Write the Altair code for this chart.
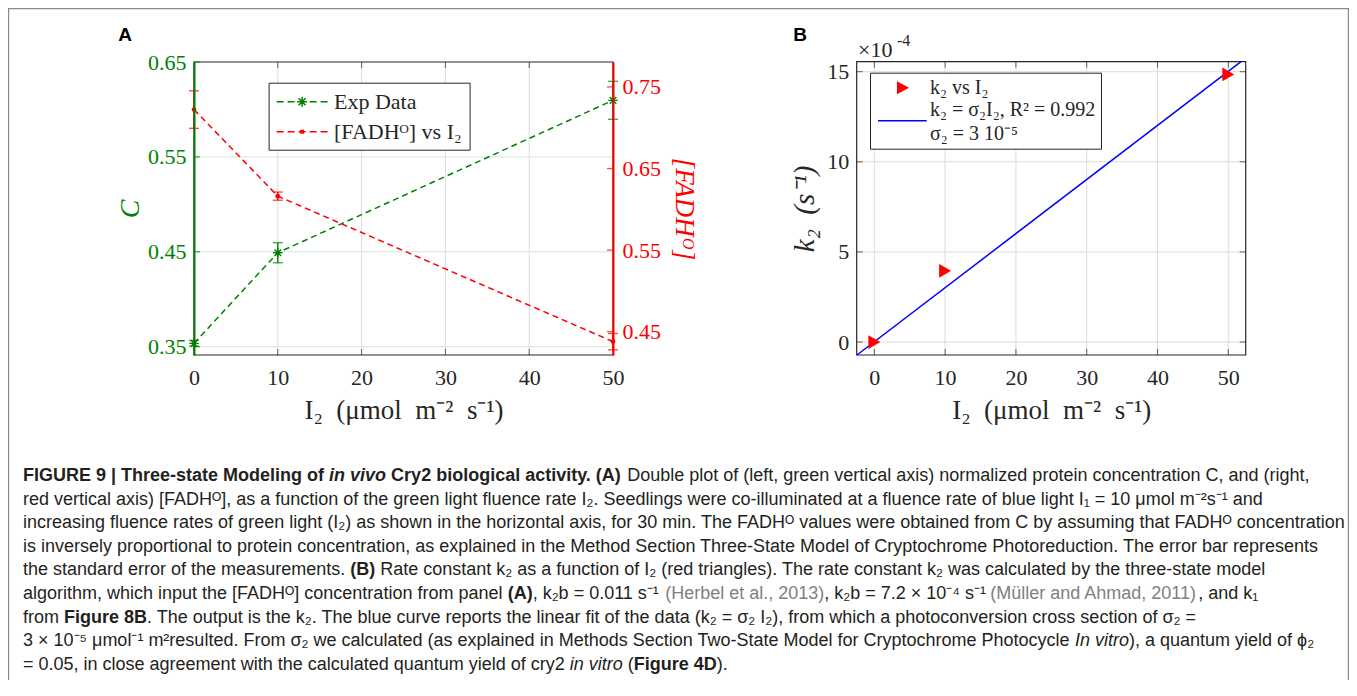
import altair as alt
import pandas as pd

# ---------------- data ----------------
I2 = [0, 10, 50]
C_val = [0.3535, 0.449, 0.6096]
C_err = [0.003, 0.0106, 0.020]
FADH_val = [0.7223, 0.6162, 0.4379]
FADH_err = [0.023, 0.005, 0.010]
k2_val = [0.0, 3.95, 14.85]            # x 10^-4 s^-1
fit_I2 = [-2.45, 51.8]
fit_k2 = [-0.72, 15.555]

xA_ticks = [0, 10, 20, 30, 40, 50]
yC_ticks = [0.35, 0.45, 0.55, 0.65]
yF_ticks = [0.45, 0.55, 0.65, 0.75]
xB_ticks = [0, 10, 20, 30, 40, 50]
yB_ticks = [0, 5, 10, 15]

xA_dom = [0, 50]
yC_dom = [0.3412, 0.65]
yF_dom = [0.4215, 0.7806]
xB_dom = [-2.49, 52.46]
yB_dom = [-0.72, 15.555]

legendA = ["Exp Data", "[FADHᴼ] vs I₂"]
legendB = ["k₂ vs I₂", "k₂ = σ₂I₂, R² = 0.992", "σ₂ = 3 10⁻⁵"]

EN = "\u2002"
xtitle = f"I₂{EN}(μmol{EN}m⁻²{EN}s⁻¹)"
ytitleB = f"k₂{EN}(s⁻¹)"

# caption: one list of (text, style) segments per line; r=regular b=bold i=italic bi=bold italic g=grey
caption = [
    [("FIGURE 9 | Three-state Modeling of ", "b"), ("in vivo", "bi"), (" Cry2 biological activity. (A)", "b"),
     (" Double plot of (left, green vertical axis) normalized protein concentration C, and (right,", "r")],
    [("red vertical axis) [FADHᴼ], as a function of the green light fluence rate I₂. Seedlings were co-illuminated at a fluence rate of blue light I₁ = 10 μmol m⁻²s⁻¹ and", "r")],
    [("increasing fluence rates of green light (I₂) as shown in the horizontal axis, for 30 min. The FADHᴼ values were obtained from C by assuming that FADHᴼ concentration", "r")],
    [("is inversely proportional to protein concentration, as explained in the Method Section Three-State Model of Cryptochrome Photoreduction. The error bar represents", "r")],
    [("the standard error of the measurements. ", "r"), ("(B)", "b"),
     (" Rate constant k₂ as a function of I₂ (red triangles). The rate constant k₂ was calculated by the three-state model", "r")],
    [("algorithm, which input the [FADHᴼ] concentration from panel ", "r"), ("(A)", "b"), (", k₂b = 0.011 s⁻¹ ", "r"),
     ("(Herbel et al., 2013)", "g"), (", k₂b = 7.2 × 10⁻⁴ s⁻¹ ", "r"), ("(Müller and Ahmad, 2011)", "g"), (", and k₁", "r")],
    [("from ", "r"), ("Figure 8B", "b"),
     (". The output is the k₂. The blue curve reports the linear fit of the data (k₂ = σ₂ I₂), from which a photoconversion cross section of σ₂ =", "r")],
    [("3 × 10⁻⁵ μmol⁻¹ m²resulted. From σ₂ we calculated (as explained in Methods Section Two-State Model for Cryptochrome Photocycle ", "r"),
     ("In vitro", "i"), ("), a quantum yield of ϕ₂", "r")],
    [("= 0.05, in close agreement with the calculated quantum yield of cry2 ", "r"), ("in vitro", "i"), (" (", "r"),
     ("Figure 4D", "b"), (").", "r")],
]

# ---------------- layout / style ----------------
W, H = 1341, 672
SERIF = "Liberation Serif"
SANS = "Liberation Sans"
DARK = "#262626"
GREEN = "#008000"
RED = "#ff0000"
BLUE = "#0000ff"
A_X = [186, 605]
A_Y = [347, 54]
B_X = [848.7, 1237.7]
B_Y = [347, 53.7]
CAP_FS = 18

# Arial / Liberation Sans advance widths (1/1000 em) for ASCII 32..126
REG_W = ([278, 278, 355, 556, 556, 889, 667, 191, 333, 333, 389, 584, 278, 333, 278, 278] + [556] * 10 +
         [278, 278, 584, 584, 584, 556, 1015] +
         [667, 667, 722, 722, 667, 611, 778, 722, 278, 500, 667, 556, 833, 722, 778, 667, 778, 722, 667, 611,
          722, 667, 944, 667, 667, 611] + [278, 278, 278, 469, 556, 333] +
         [556, 556, 500, 556, 556, 278, 556, 556, 222, 222, 500, 222, 833, 556, 556, 556, 556, 333, 500, 278,
          556, 500, 722, 500, 500, 500] + [334, 260, 334, 584])
BOLD_W = ([278, 333, 474, 556, 556, 889, 722, 238, 333, 333, 389, 584, 278, 333, 278, 278] + [556] * 10 +
          [333, 333, 584, 584, 584, 611, 975] +
          [722, 722, 722, 722, 667, 611, 778, 722, 278, 556, 722, 611, 833, 722, 778, 667, 778, 722, 667, 611,
           722, 667, 944, 667, 667, 611] + [333, 278, 333, 584, 556, 333] +
          [556, 611, 556, 611, 556, 333, 611, 611, 278, 278, 556, 278, 889, 611, 611, 611, 611, 389, 556, 333,
           611, 556, 778, 556, 556, 500] + [389, 280, 389, 584])
EXTRA_W = {"ᴼ": 470, "₂": 360, "₁": 360, "⁻": 360, "⁴": 360, "⁵": 360, "²": 333, "¹": 333,
           "μ": 576, "σ": 600, "ϕ": 660, "×": 584, "ü": 556}


def text_w(s, bold):
    tab = BOLD_W if bold else REG_W
    tot = 0
    for ch in s:
        o = ord(ch)
        tot += tab[o - 32] if 32 <= o <= 126 else EXTRA_W.get(ch, 556)
    return tot / 1000.0 * CAP_FS


rows = []
for li, segs in enumerate(caption):
    x = 15.0
    for txt, st in segs:
        bold = st in ("b", "bi")
        lead = txt[:len(txt) - len(txt.lstrip(" "))]
        rows.append({"line": li, "x": x + text_w(lead, bold), "t": txt.strip(" "), "st": st})
        x += text_w(txt, bold)
cap_df = pd.DataFrame(rows)

ASTERISK = "M0,-1L0,1M-1,0L1,0M-0.7,-0.7L0.7,0.7M-0.7,0.7L0.7,-0.7"


def sym(parts, s):
    """Legend symbol path; parts are pixel coords from entry-left / row-centre."""
    h = s / 2.0
    out = []
    for p in parts:
        if p[0] == "Z":
            out.append("Z")
        else:
            out.append(f"{p[0]}{(p[1] - h) / h:.3f},{p[2] / h:.3f}")
    return "".join(out)


def dashes(segs):
    res = []
    for a, b in segs:
        res += [("M", a, 0), ("L", b, 0)]
    return res


SA = 22
cx = 25.5
LEG_A1 = sym(dashes([(0, 7), (11, 18), (33, 40), (44, 51)]) + [
    ("M", cx, -5), ("L", cx, 5), ("M", cx - 5, 0), ("L", cx + 5, 0),
    ("M", cx - 3.5, -3.5), ("L", cx + 3.5, 3.5), ("M", cx - 3.5, 3.5), ("L", cx + 3.5, -3.5)], SA)
LEG_A2 = sym(dashes([(0, 7), (11, 18), (22, 29), (33, 40), (44, 51)]) + [
    ("M", cx - 1.2, -1.2), ("L", cx + 1.2, -1.2), ("L", cx + 1.2, 1.2), ("L", cx - 1.2, 1.2), ("Z",)], SA)
SB = 20
LEG_B1 = sym([("M", 22, -6.5), ("L", 34, 0), ("L", 22, 6.5), ("Z",)], SB)
LEG_B2 = sym([("M", 3, 10.3), ("L", 51.7, 10.3), ("L", 51.7, 11.7), ("L", 3, 11.7), ("Z",)], SB)
LEG_B3 = sym([("M", 9.9, -0.1), ("L", 10.1, -0.1), ("L", 10.1, 0.1), ("Z",)], SB)


def axis(**kw):
    base = dict(labelFont=SERIF, labelFontSize=22, labelColor=DARK, ticks=False,
                grid=False, domain=False, labelOverlap=False, labelFlush=False,
                titleFont=SERIF, titleFontWeight="normal", titleColor=DARK,
                titleAlign="center", titleBaseline="middle", zindex=1)
    base.update(kw)
    return alt.Axis(**base)


def sc(dom, rng):
    return alt.Scale(domain=dom, range=rng, nice=False, zero=False)


sxA, syC, syF = sc(xA_dom, A_X), sc(yC_dom, A_Y), sc(yF_dom, A_Y)
sxB, syB = sc(xB_dom, B_X), sc(yB_dom, B_Y)

axA_x = axis(values=xA_ticks, orient="bottom", offset=A_Y[0] - H, labelPadding=12, format="d",
             title=xtitle, titleFontSize=27, titleX=(A_X[0] + A_X[1]) / 2, titleY=55)
axC = axis(values=yC_ticks, orient="left", offset=-A_X[0], labelPadding=8, format=".2f",
           labelColor=GREEN, domain=True, domainColor=GREEN, domainWidth=2,
           title="C", titleColor=GREEN, titleFontSize=28, titleFontStyle="italic",
           titleAngle=270, titleX=122 - A_X[0], titleY=(A_Y[0] + A_Y[1]) / 2)
axF = axis(values=yF_ticks, orient="right", offset=A_X[1] - W, labelPadding=9, format=".2f",
           labelColor=RED, domain=True, domainColor=RED, domainWidth=2,
           title="[FADHᴼ]", titleColor=RED, titleFontSize=27, titleFontStyle="italic",
           titleAngle=90, titleX=675 - A_X[1], titleY=(A_Y[0] + A_Y[1]) / 2)
axB_x = axis(values=xB_ticks, orient="bottom", offset=B_Y[0] - H, labelPadding=12, format="d",
             title=xtitle, titleFontSize=27, titleX=(B_X[0] + B_X[1]) / 2, titleY=55)
axB_y = axis(values=yB_ticks, orient="left", offset=-B_X[0], labelPadding=8, format="d",
             title=ytitleB, titleFontSize=29, titleFontStyle="italic",
             titleAngle=270, titleX=796 - B_X[0], titleY=(B_Y[0] + B_Y[1]) / 2)


def XA(f): return alt.X(f, type="quantitative", scale=sxA, axis=axA_x)
def YC(f): return alt.Y(f, type="quantitative", scale=syC, axis=axC)
def YF(f): return alt.Y(f, type="quantitative", scale=syF, axis=axF)
def XB(f): return alt.X(f, type="quantitative", scale=sxB, axis=axB_x)
def YB(f): return alt.Y(f, type="quantitative", scale=syB, axis=axB_y)


# ---------------- panel A ----------------
dfA = pd.DataFrame({
    "I2": I2, "C": C_val, "F": FADH_val,
    "Clo": [v - e for v, e in zip(C_val, C_err)], "Chi": [v + e for v, e in zip(C_val, C_err)],
    "Flo": [v - e for v, e in zip(FADH_val, FADH_err)], "Fhi": [v + e for v, e in zip(FADH_val, FADH_err)],
})
capsC = pd.DataFrame({"I2": I2 * 2, "v": list(dfA["Clo"]) + list(dfA["Chi"])})
capsF = pd.DataFrame({"I2": I2 * 2, "v": list(dfA["Flo"]) + list(dfA["Fhi"])})

vgridA = pd.DataFrame({"x": xA_ticks[1:-1], "y0": yC_dom[0], "y1": yC_dom[1]})
hgridA = pd.DataFrame({"y": yC_ticks[:-1], "x0": xA_dom[0], "x1": xA_dom[1]})
frameA = pd.DataFrame({"x0": [xA_dom[0]], "x1": [xA_dom[1]], "y0": [yC_dom[0]], "y1": [yC_dom[1]]})
tickAx = pd.DataFrame({"x": xA_ticks[1:-1], "yb": yC_dom[0], "yt": yC_dom[1]})
tickC = pd.DataFrame({"y": yC_ticks, "x": xA_dom[0]})
tickF = pd.DataFrame({"y": yF_ticks, "x": xA_dom[1]})

green = alt.layer(
    alt.Chart(vgridA).mark_rule(color="#dcdcdc", strokeWidth=1).encode(x=XA("x"), y=YC("y0"), y2="y1"),
    alt.Chart(hgridA).mark_rule(color="#d2e8d2", strokeWidth=1).encode(x=XA("x0"), x2="x1", y=YC("y")),
    alt.Chart(frameA).mark_rect(fillOpacity=0, stroke=DARK, strokeWidth=1.2).encode(
        x=XA("x0"), x2="x1", y=YC("y0"), y2="y1"),
    alt.Chart(tickAx).mark_tick(orient="vertical", size=6, thickness=1, color=DARK, yOffset=-3).encode(
        x=XA("x"), y=YC("yb")),
    alt.Chart(tickAx).mark_tick(orient="vertical", size=6, thickness=1, color=DARK, yOffset=3).encode(
        x=XA("x"), y=YC("yt")),
    alt.Chart(tickC).mark_tick(orient="horizontal", size=6, thickness=1.3, color=GREEN, xOffset=3).encode(
        x=XA("x"), y=YC("y")),
    alt.Chart(dfA).mark_line(color=GREEN, strokeDash=[6, 4], strokeWidth=1.5).encode(x=XA("I2"), y=YC("C")),
    alt.Chart(dfA).mark_rule(color=GREEN, strokeWidth=1.4).encode(x=XA("I2"), y=YC("Clo"), y2="Chi"),
    alt.Chart(capsC).mark_tick(orient="horizontal", size=10, thickness=1.4, color=GREEN).encode(
        x=XA("I2"), y=YC("v")),
    alt.Chart(dfA).mark_point(shape=ASTERISK, size=90, filled=False, strokeWidth=1.4, color=GREEN,
                              opacity=1).encode(x=XA("I2"), y=YC("C")),
)

red = alt.layer(
    alt.Chart(tickF).mark_tick(orient="horizontal", size=6, thickness=1.3, color=RED, xOffset=-3).encode(
        x=XA("x"), y=YF("y")),
    alt.Chart(dfA).mark_line(color=RED, strokeDash=[6, 4], strokeWidth=1.5).encode(x=XA("I2"), y=YF("F")),
    alt.Chart(dfA).mark_rule(color=RED, strokeWidth=1.4).encode(x=XA("I2"), y=YF("Flo"), y2="Fhi"),
    alt.Chart(capsF).mark_tick(orient="horizontal", size=10, thickness=1.4, color=RED).encode(
        x=XA("I2"), y=YF("v")),
    alt.Chart(dfA).mark_point(shape="circle", size=22, filled=True, color=RED, opacity=1).encode(
        x=XA("I2"), y=YF("F")),
)

legA = alt.Legend(title=None, orient="none", legendX=260.6, legendY=74.7, strokeColor=DARK,
                  fillColor="white", padding=7, labelFont=SERIF, labelFontSize=22, labelColor=DARK,
                  labelOffset=34.4, labelLimit=400, symbolSize=SA * SA, symbolStrokeWidth=1.5,
                  symbolOpacity=1, rowPadding=7, labelExpr=f"datum.label + '{EN}'")
legA_layer = alt.Chart(pd.DataFrame({"s": legendA})).mark_point(filled=False, opacity=0).encode(
    color=alt.Color("s:N", scale=alt.Scale(domain=legendA, range=[GREEN, RED]), legend=legA),
    shape=alt.Shape("s:N", scale=alt.Scale(domain=legendA, range=[LEG_A1, LEG_A2]), legend=legA),
)

panelA = alt.layer(green, red, legA_layer).resolve_scale(y="independent")

# ---------------- panel B ----------------
dfB = pd.DataFrame({"I2": I2, "k2": k2_val})
dfFit = pd.DataFrame({"I2": fit_I2, "k2": fit_k2})
vgridB = pd.DataFrame({"x": xB_ticks, "y0": yB_dom[0], "y1": yB_dom[1]})
hgridB = pd.DataFrame({"y": yB_ticks, "x0": xB_dom[0], "x1": xB_dom[1]})
frameB = pd.DataFrame({"x0": [xB_dom[0]], "x1": [xB_dom[1]], "y0": [yB_dom[0]], "y1": [yB_dom[1]]})
tickBx = pd.DataFrame({"x": xB_ticks, "yb": yB_dom[0], "yt": yB_dom[1]})
tickBy = pd.DataFrame({"y": yB_ticks, "xl": xB_dom[0], "xr": xB_dom[1]})

legB = alt.Legend(title=None, orient="none", legendX=862, legendY=64.7, strokeColor=DARK,
                  fillColor="white", padding=5, labelFont=SERIF, labelFontSize=20, labelColor=DARK,
                  labelOffset=35, labelLimit=400, symbolSize=SB * SB, symbolStrokeWidth=0,
                  symbolOpacity=1, rowPadding=2)

panelB = alt.layer(
    alt.Chart(vgridB).mark_rule(color="#dcdcdc", strokeWidth=1).encode(x=XB("x"), y=YB("y0"), y2="y1"),
    alt.Chart(hgridB).mark_rule(color="#dcdcdc", strokeWidth=1).encode(x=XB("x0"), x2="x1", y=YB("y")),
    alt.Chart(frameB).mark_rect(fillOpacity=0, stroke=DARK, strokeWidth=1.2).encode(
        x=XB("x0"), x2="x1", y=YB("y0"), y2="y1"),
    alt.Chart(tickBx).mark_tick(orient="vertical", size=6, thickness=1, color=DARK, yOffset=-3).encode(
        x=XB("x"), y=YB("yb")),
    alt.Chart(tickBx).mark_tick(orient="vertical", size=6, thickness=1, color=DARK, yOffset=3).encode(
        x=XB("x"), y=YB("yt")),
    alt.Chart(tickBy).mark_tick(orient="horizontal", size=6, thickness=1, color=DARK, xOffset=3).encode(
        x=XB("xl"), y=YB("y")),
    alt.Chart(tickBy).mark_tick(orient="horizontal", size=6, thickness=1, color=DARK, xOffset=-3).encode(
        x=XB("xr"), y=YB("y")),
    alt.Chart(dfFit).mark_line(color=BLUE, strokeWidth=1.5).encode(x=XB("I2"), y=YB("k2")),
    alt.Chart(dfB).mark_point(shape="triangle-right", size=190, filled=True, color=RED, opacity=1).encode(
        x=XB("I2"), y=YB("k2")),
    alt.Chart(pd.DataFrame({"s": legendB})).mark_point(filled=True, opacity=0).encode(
        color=alt.Color("s:N", scale=alt.Scale(domain=legendB, range=[RED, BLUE, "#ffffff"]), legend=legB),
        shape=alt.Shape("s:N", scale=alt.Scale(domain=legendB, range=[LEG_B1, LEG_B2, LEG_B3]), legend=legB),
    ),
)

# ---------------- annotations ----------------
border = alt.Chart(pd.DataFrame({"a": [0]})).mark_rect(fillOpacity=0, stroke="#8a8a8a", strokeWidth=1.2).encode(
    x=alt.value(0.6), x2=alt.value(W - 0.6), y=alt.value(0.6), y2=alt.value(H + 40))

ident = alt.Scale(domain=[0, W], range=[0, W])
panel_labels = alt.Chart(pd.DataFrame({"t": ["A", "B"], "px": [117, 792]})).mark_text(
    font=SANS, fontWeight="bold", fontSize=19, color="#000000", align="center", baseline="middle").encode(
    x=alt.X("px:Q", scale=ident, axis=None), y=alt.value(27), text="t:N")

exp_base = alt.Chart(pd.DataFrame({"t": ["×10"]})).mark_text(
    font=SERIF, fontSize=22, color=DARK, align="left", baseline="middle").encode(
    x=alt.value(850), y=alt.value(42), text="t:N")
exp_sup = alt.Chart(pd.DataFrame({"t": ["-4"]})).mark_text(
    font=SERIF, fontSize=16, color=DARK, align="left", baseline="middle").encode(
    x=alt.value(889), y=alt.value(33), text="t:N")

capY = alt.Scale(domain=[0, 8], range=[468, 656.8])
STYLES = {
    "r": dict(fontWeight="normal", fontStyle="normal", color="#231f20"),
    "b": dict(fontWeight="bold", fontStyle="normal", color="#231f20"),
    "i": dict(fontWeight="normal", fontStyle="italic", color="#231f20"),
    "bi": dict(fontWeight="bold", fontStyle="italic", color="#231f20"),
    "g": dict(fontWeight="normal", fontStyle="normal", color="#808080"),
}
cap_layers = []
for st, props in STYLES.items():
    sub = cap_df[cap_df["st"] == st]
    if len(sub):
        cap_layers.append(
            alt.Chart(sub).mark_text(font=SANS, fontSize=CAP_FS, align="left", baseline="middle", **props).encode(
                x=alt.X("x:Q", scale=ident, axis=None),
                y=alt.Y("line:Q", scale=capY, axis=None), text="t:N"))
caption_chart = alt.layer(*cap_layers)

chart = alt.layer(border, panelA, panelB, panel_labels, exp_base, exp_sup, caption_chart).resolve_scale(
    x="independent", y="independent", color="independent", shape="independent"
).properties(
    width=W, height=H, autosize=alt.AutoSizeParams(type="none"), padding=0, background="white"
).configure_view(stroke=None)

chart.save("out.html", embed_options={"renderer": "svg", "actions": False})
